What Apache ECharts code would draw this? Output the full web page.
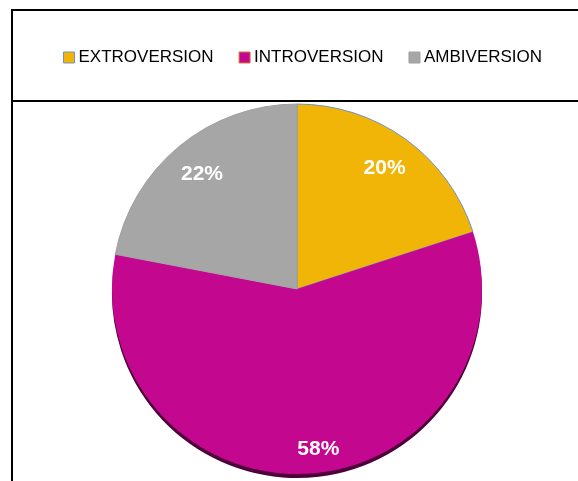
<!DOCTYPE html>
<html>
<head>
<meta charset="utf-8">
<script src="https://cdn.jsdelivr.net/npm/echarts@6/dist/echarts.min.js"></script>
<style>
  html, body { margin: 0; padding: 0; background: #fff; }
  #chart { width: 578px; height: 481px; }
</style>
</head>
<body>
<div id="chart"></div>
<script>
const categories = ['EXTROVERSION', 'INTROVERSION', 'AMBIVERSION'];
const shares = [20, 58, 22];
const sliceColors = ['#F1B507', '#C4078F', '#A6A6A6'];
const edgeColors = ['#6F93C4', '#D7782E', '#A0A0A0'];

const chart = echarts.init(document.getElementById('chart'));

const pieData = categories.map((name, i) => {
  const item = {
    name,
    value: shares[i],
    itemStyle: {
      color: sliceColors[i],
      borderColor: edgeColors[i],
      borderWidth: 1,
    },
  };
  if (name === 'INTROVERSION') {
    // dark rim under the big slice (no stroke, so the shadow stays outside)
    item.itemStyle.borderWidth = 0;
    item.itemStyle.shadowColor = '#4E0039';
    item.itemStyle.shadowOffsetY = 4;
    item.itemStyle.shadowBlur = 0;
  }
  return item;
});

// label-only ring; the big slice's label sits a bit lower/right like in excel
const labelData = categories.map((name, i) => {
  const item = { name, value: shares[i] };
  if (name === 'INTROVERSION') {
    item.label = { offset: [12, 11] };
  }
  return item;
});

const option = {
  backgroundColor: '#fff',
  animation: false,
  legend: {
    data: categories.map((name, i) => ({
      name,
      itemStyle: { color: sliceColors[i], borderColor: edgeColors[i], borderWidth: 1 },
    })),
    left: 58,
    top: 44,
    icon: 'rect',
    itemWidth: 11,
    itemHeight: 11,
    itemGap: 25,
    textStyle: {
      fontFamily: 'Liberation Sans',
      fontSize: 17,
      color: '#000',
      padding: [0, 0, 0, -1],
    },
  },
  graphic: [
    { type: 'line', shape: { x1: 12, y1: 10, x2: 578, y2: 10 }, style: { stroke: '#000', lineWidth: 2 } },
    { type: 'line', shape: { x1: 12, y1: 9, x2: 12, y2: 481 }, style: { stroke: '#000', lineWidth: 2 } },
    { type: 'line', shape: { x1: 12, y1: 101, x2: 578, y2: 101 }, style: { stroke: '#000', lineWidth: 2 } },
  ],
  series: [
    {
      type: 'pie',
      center: [297, 289],
      radius: 185,
      startAngle: 90,
      label: { show: false },
      labelLine: { show: false },
      emphasis: { disabled: true },
      data: pieData,
    },
    {
      type: 'pie',
      center: [297, 289],
      radius: [100, 192],
      startAngle: 90,
      silent: true,
      itemStyle: { color: 'rgba(0,0,0,0)' },
      label: {
        show: true,
        position: 'inside',
        formatter: '{c}%',
        color: '#fff',
        fontFamily: 'Liberation Sans',
        fontWeight: 'bold',
        fontSize: 21,
      },
      labelLine: { show: false },
      emphasis: { disabled: true },
      data: labelData,
    },
  ],
};

chart.setOption(option);
</script>
</body>
</html>
